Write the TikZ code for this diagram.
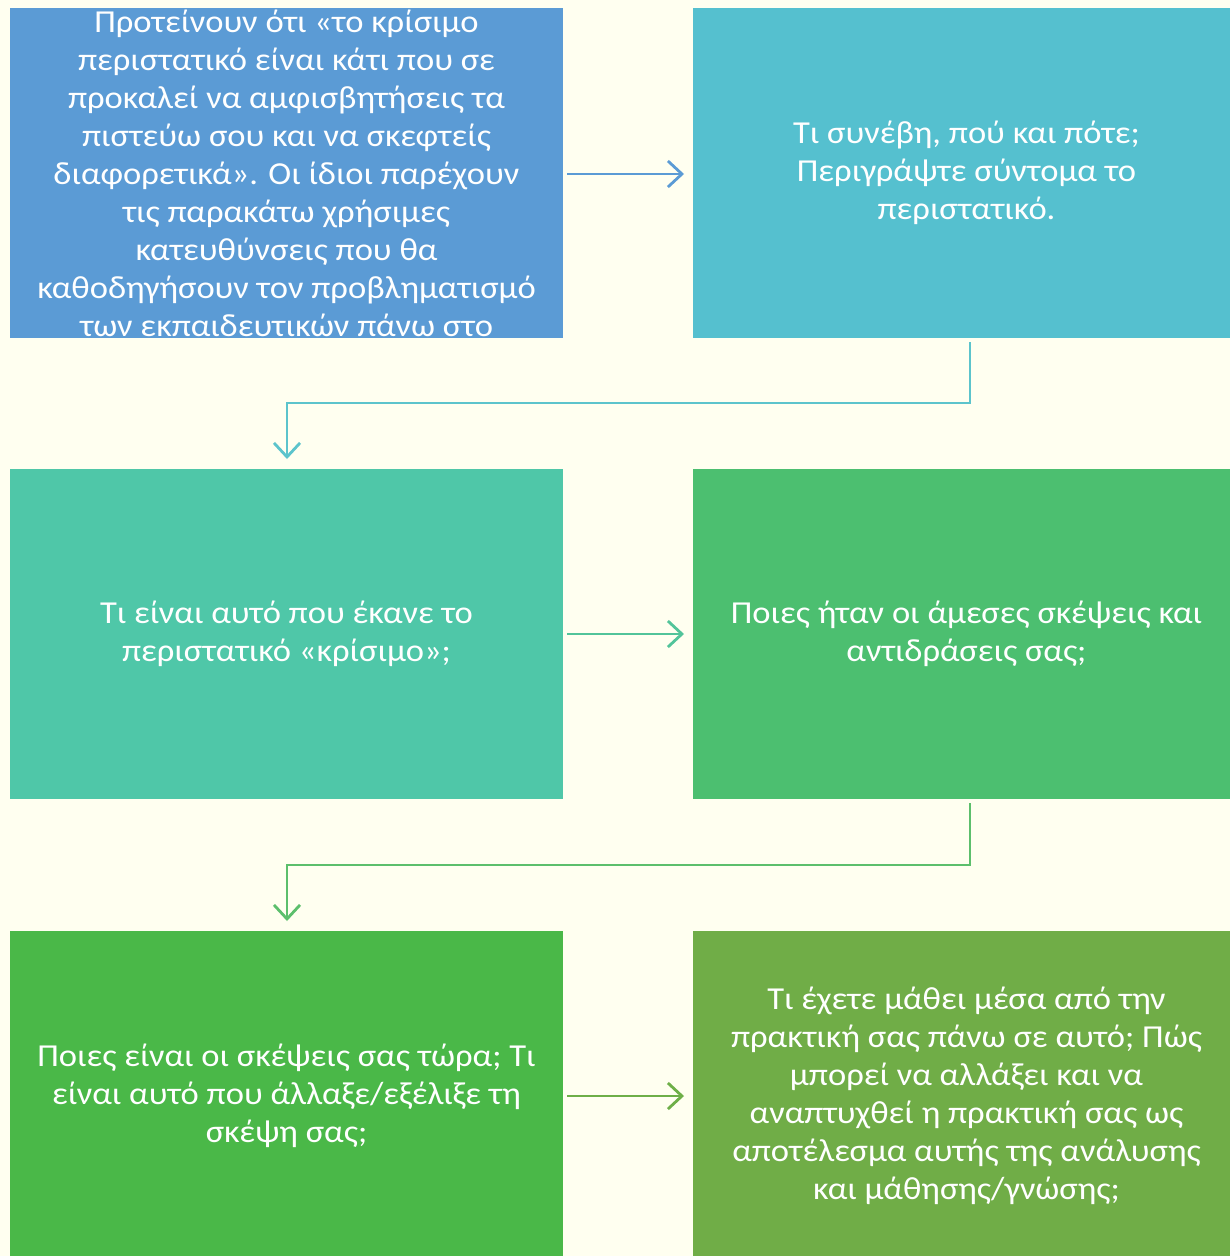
\documentclass[tikz,border=0pt]{standalone}
\usepackage{fontspec}
\setmainfont[FakeStretch=1.08]{Carlito}
\usetikzlibrary{arrows.meta}
\definecolor{bgc}{HTML}{FFFFF0}
\definecolor{cA}{HTML}{5B9BD5}
\definecolor{cB}{HTML}{55C0CF}
\definecolor{cC}{HTML}{4FC7A8}
\definecolor{cD}{HTML}{4CBF70}
\definecolor{cE}{HTML}{4AB848}
\definecolor{cF}{HTML}{70AD47}
\definecolor{lA}{HTML}{5B9BD5}
\definecolor{lB}{HTML}{5CC4CC}
\definecolor{lC}{HTML}{52C49A}
\definecolor{lD}{HTML}{5CBF6C}
\definecolor{lE}{HTML}{6EAF48}
\tikzset{
  boxL/.style={minimum width=553pt, minimum height=330pt, inner sep=0pt, outer sep=0pt},
  boxR/.style={minimum width=547pt, minimum height=330pt, inner sep=0pt, outer sep=0pt},
  txt/.style={text=white, align=center, font=\fontsize{32}{38}\selectfont, inner sep=0pt},
  conn/.style={line width=2.8pt, -{Straight Barb[length=14pt,width=26pt,line width=2.8pt]}},
}
\begin{document}
\begin{tikzpicture}[x=1pt,y=-1pt]
\fill[bgc] (0,0) rectangle (1230,1256);
\useasboundingbox (0,0) rectangle (1230,1256);
% row 1
\node[boxL, fill=cA] (b1) at (286.5,173) {};
\begin{scope}
\clip (10,8) rectangle (563,338);
\node[txt] (b1t) at (286.5,173) {Προτείνουν ότι «το κρίσιμο\\περιστατικό είναι κάτι που σε\\προκαλεί να αμφισβητήσεις τα\\πιστεύω σου και να σκεφτείς\\διαφορετικά». Οι ίδιοι παρέχουν\\τις παρακάτω χρήσιμες\\κατευθύνσεις που θα\\καθοδηγήσουν τον προβληματισμό\\των εκπαιδευτικών πάνω στο};
\end{scope}
\node[boxR, fill=cB] (b2) at (966.5,173) {};
\node[txt] (b2t) at (b2.center) {Τι συνέβη, πού και πότε;\\Περιγράψτε σύντομα το\\περιστατικό.};
% row 2
\node[boxL, fill=cC] (b3) at (286.5,634) {};
\node[txt] (b3t) at (b3.center) {Τι είναι αυτό που έκανε το\\περιστατικό «κρίσιμο»;};
\node[boxR, fill=cD] (b4) at (966.5,634) {};
\node[txt] (b4t) at (b4.center) {Ποιες ήταν οι άμεσες σκέψεις και\\αντιδράσεις σας;};
% row 3
\node[boxL, fill=cE] (b5) at (286.5,1096) {};
\node[txt] (b5t) at (b5.center) {Ποιες είναι οι σκέψεις σας τώρα; Τι\\είναι αυτό που άλλαξε/εξέλιξε τη\\σκέψη σας;};
\node[boxR, fill=cF] (b6) at (966.5,1096) {};
\node[txt] (b6t) at (b6.center) {Τι έχετε μάθει μέσα από την\\πρακτική σας πάνω σε αυτό; Πώς\\μπορεί να αλλάξει και να\\αναπτυχθεί η πρακτική σας ως\\αποτέλεσμα αυτής της ανάλυσης\\και μάθησης/γνώσης;};
% connectors
\draw[conn, lA] ([xshift=4pt,yshift=-1pt]b1.east) -- ([xshift=-9pt,yshift=-1pt]b2.west);
\draw[conn, lC] ([xshift=4pt]b3.east) -- ([xshift=-9pt]b4.west);
\draw[conn, lE] ([xshift=4pt]b5.east) -- ([xshift=-9pt]b6.west);
\coordinate (e1) at (287,403);
\coordinate (e2) at (287,865);
\draw[conn, lB] ([xshift=3.5pt,yshift=-4pt]b2.south) |- (e1) -- ([xshift=0.5pt,yshift=10pt]b3.north);
\draw[conn, lD] ([xshift=3.5pt,yshift=-4pt]b4.south) |- (e2) -- ([xshift=0.5pt,yshift=10pt]b5.north);
\end{tikzpicture}
\end{document}
